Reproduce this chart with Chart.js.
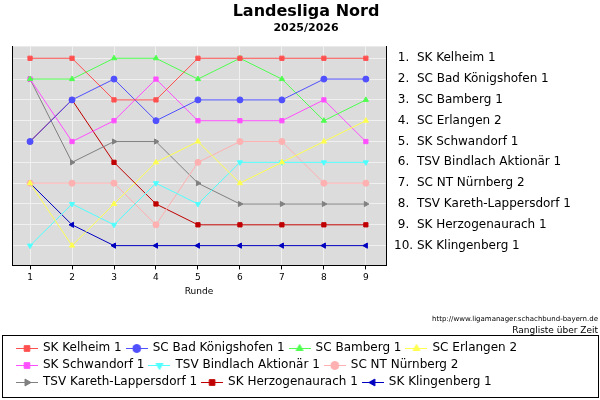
<!DOCTYPE html>
<html><head><meta charset="utf-8">
<script src="https://cdn.jsdelivr.net/npm/chart.js@4"></script>
<style>body{margin:0;background:#fff}#wrap{width:600px;height:400px}</style>
</head><body><div id="wrap"><canvas id="c"></canvas></div>
<script>
const rounds = [1,2,3,4,5,6,7,8,9];
const teams = ["SK Kelheim 1","SC Bad Königshofen 1","SC Bamberg 1","SC Erlangen 2","SK Schwandorf 1","TSV Bindlach Aktionär 1","SC NT Nürnberg 2","TSV Kareth-Lappersdorf 1","SK Herzogenaurach 1","SK Klingenberg 1"];
const finalOrder = ["SK Kelheim 1","SC Bad Königshofen 1","SC Bamberg 1","SC Erlangen 2","SK Schwandorf 1","TSV Bindlach Aktionär 1","SC NT Nürnberg 2","TSV Kareth-Lappersdorf 1","SK Herzogenaurach 1","SK Klingenberg 1"];
const ranks = [
  [1,1,3,3,1,1,1,1,1],
  [5,3,2,4,3,3,3,2,2],
  [2,2,1,1,2,1,2,4,3],
  [7,10,8,6,5,7,6,5,4],
  [2,5,4,2,4,4,4,3,5],
  [10,8,9,7,8,6,6,6,6],
  [7,7,7,9,6,5,5,7,7],
  [2,6,5,5,7,8,8,8,8],
  [5,3,6,8,9,9,9,9,9],
  [7,9,10,10,10,10,10,10,10]
];
const colors = ["#ff5050","#5050ff","#50ff50","#ffff50","#ff50ff","#50ffff","#ffb0b0","#808080","#c00000","#0000c0"];
const shapes = ["rect","circle","triangle","triangle","rect","triangle","circle","triangle","rect","triangle"];
const rotations = [0,0,0,0,0,180,0,90,0,270];

const F = "DejaVu Sans";

// legend symbols: short line with the marker in the middle
const icons = teams.map((t, i) => {
  const c = document.createElement("canvas");
  c.width = 22; c.height = 10;
  const g = c.getContext("2d");
  g.strokeStyle = colors[i]; g.fillStyle = colors[i]; g.lineWidth = 1;
  g.beginPath(); g.moveTo(0, 5.5); g.lineTo(22, 5.5); g.stroke();
  Chart.helpers.drawPoint(g, { pointStyle: shapes[i], rotation: rotations[i], radius: 4, borderWidth: 1 }, 11, 5.5);
  return c;
});

const extras = {
  id: "extras",
  beforeDraw(chart) {
    const a = chart.chartArea, ctx = chart.ctx;
    ctx.save();
    ctx.fillStyle = "#dcdcdc";
    ctx.fillRect(a.left, a.top, a.right - a.left, a.bottom - a.top);
    ctx.restore();
  },
  afterDraw(chart) {
    const ctx = chart.ctx, l = chart.legend;
    ctx.save();
    ctx.strokeStyle = "#000";
    ctx.lineWidth = 1;
    ctx.strokeRect(2.5, l.top - 1.5, 596, l.height + 1);
    ctx.fillStyle = "#000";
    ctx.textAlign = "right";
    ctx.font = "7px " + F;
    ctx.fillText("http://www.ligamanager.schachbund-bayern.de", 598, 319);
    ctx.font = "9px " + F;
    ctx.fillText("Rangliste über Zeit", 598, 331);
    ctx.restore();
  }
};

const rankTicks = ax => { ax.ticks = [1,2,3,4,5,6,7,8,9,10].map(v => ({ value: v })); };

new Chart(document.getElementById("c"), {
  type: "line",
  data: {
    datasets: teams.map((t, i) => ({
      label: t, data: rounds.map((r, j) => ({ x: r, y: ranks[i][j] })),
      borderColor: colors[i], backgroundColor: colors[i],
      pointStyle: shapes[i], rotation: rotations[i], pointRadius: 3, borderWidth: 1,
      tension: 0, yAxisID: "y"
    }))
  },
  options: {
    responsive: true, maintainAspectRatio: false, animation: false,
    layout: { padding: { left: 12, right: 0, top: 0, bottom: 2 } },
    scales: {
      x: { type: "linear", min: 0.57, max: 9.48,
           afterBuildTicks: ax => { ax.ticks = rounds.map(v => ({ value: v })); },
           grid: { color: "#f0f0f0", tickLength: 4, tickColor: "#000" },
           border: { color: "#000" },
           ticks: { color: "#000", font: { family: F, size: 9 } },
           title: { display: true, text: "Runde", color: "#000", font: { family: F, size: 9 }, padding: { top: 0, bottom: 40 } } },
      y: { position: "left", reverse: true, min: 0.43, max: 10.95, grid: { color: "#f0f0f0", drawTicks: false },
           afterBuildTicks: rankTicks, ticks: { display: false }, border: { color: "#000" },
           afterFit: ax => { ax.width = 0; } },
      y2: { position: "right", reverse: true, min: 0.43, max: 10.95,
            grid: { display: false, tickLength: 4, tickColor: "#000" }, border: { color: "#000" },
            afterBuildTicks: rankTicks, afterFit: ax => { ax.width = 214; },
            ticks: { color: "#000", font: { family: F, size: 12 }, padding: 4,
                     callback: v => (v < 10 ? " " + v + ".  " : v + ". ") + finalOrder[v - 1] } }
    },
    plugins: {
      title: { display: true, text: "Landesliga Nord", color: "#000", font: { family: F, size: 16, weight: "bold" }, padding: { top: 2, bottom: 0 } },
      subtitle: { display: true, text: "2025/2026", color: "#000", font: { family: F, size: 11, weight: "bold" }, padding: { top: 0, bottom: 12 } },
      legend: { position: "bottom", align: "start",
        labels: { usePointStyle: true, pointStyleWidth: 20, boxHeight: 10, color: "#000", padding: 5, font: { family: F, size: 12 },
          generateLabels: ch => ch.data.datasets.map((d, i) => ({ text: d.label, pointStyle: icons[i], datasetIndex: i, lineWidth: 0 })) } },
      tooltip: { enabled: false }
    }
  },
  plugins: [extras]
});
</script></body></html>
